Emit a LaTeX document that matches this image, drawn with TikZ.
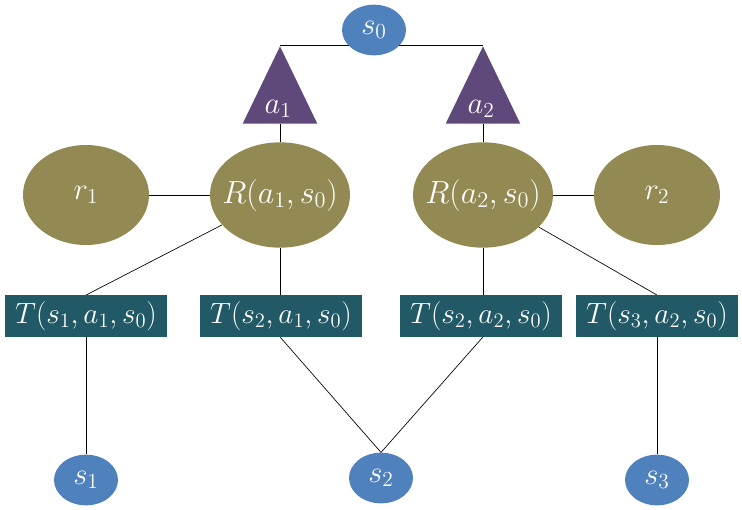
\documentclass[tikz,border=0pt]{standalone}
\usepackage{fix-cm}
\usepackage{tikz}
\usetikzlibrary{shapes.geometric,backgrounds}
\definecolor{stateblue}{HTML}{4F81BD}
\definecolor{rewardolive}{HTML}{938953}
\definecolor{actpurple}{HTML}{5F497A}
\definecolor{transteal}{HTML}{215967}

\begin{document}
\begin{tikzpicture}[
    x=0.75pt, y=-0.75pt,
    font=\fontsize{23}{27}\selectfont,
    state/.style={
        ellipse,
        fill=stateblue,
        text=white,
        minimum width=48pt,
        minimum height=38pt,
        inner sep=0pt
    },
    reward/.style={
        ellipse,
        fill=rewardolive,
        text=white,
        minimum width=94.5pt,
        minimum height=75pt,
        inner sep=0pt
    },
    rsum/.style={
        reward,
        font=\fontsize{24}{28}\selectfont,
        inner xsep=-10pt,
        minimum width=105pt,
        minimum height=79pt
    },
    trans/.style={
        rectangle,
        fill=transteal,
        text=white,
        font=\fontsize{22}{26}\selectfont,
        minimum width=121.5pt,
        minimum height=31pt,
        inner sep=0pt
    },
    act/.style={
        isosceles triangle,
        shape border rotate=90,
        isosceles triangle stretches,
        fill=actpurple,
        minimum width=56pt,
        minimum height=58pt,
        inner sep=0pt
    },
    actlab/.style={text=white, inner sep=0pt},
    link/.style={draw=black, line width=0.5pt}
]
\useasboundingbox (0,0) rectangle (742,510);

% top state and actions
\node[state] (s0) at (374,30) {$s_0$};
\node[act, anchor=south] (a1) at (280,124) {};
\node[act, anchor=south] (a2) at (483,124) {};
\node[actlab] (a1lab) at (278,109) {$a_1$};
\node[actlab] (a2lab) at (481,109) {$a_2$};

% rewards
\node[reward] (r1) at (86,195) {$r_1$};
\node[rsum] (R1) at (280,195) {$R(a_1,s_0)$};
\node[rsum] (R2) at (483,195) {$R(a_2,s_0)$};
\node[reward] (r2) at (657,195) {$r_2$};

% transitions
\node[trans] (T1) at (86,316) {$T(s_1,a_1,s_0)$};
\node[trans] (T2) at (281,316) {$T(s_2,a_1,s_0)$};
\node[trans] (T3) at (481,316) {$T(s_2,a_2,s_0)$};
\node[trans] (T4) at (657,316) {$T(s_3,a_2,s_0)$};

% next states
\node[state] (s1) at (86,480) {$s_1$};
\node[state] (s2) at (381,478) {$s_2$};
\node[state] (s3) at (657,480) {$s_3$};

\begin{pgfonlayer}{background}
\draw[link] (a1.north) -- (a2.north);
\draw[link] (a1.south) -- (R1.north);
\draw[link] (a2.south) -- (R2.north);
\draw[link] (r1) -- (R1);
\draw[link] (R2) -- (r2);
\draw[link] (R1) -- (T1.north);
\draw[link] (R1.south) -- (T2.north -| R1.south);
\draw[link] (R2.south) -- (T3.north -| R2.south);
\draw[link] (R2) -- (T4.north);
\draw[link] (T1.south) -- (s1.north);
\draw[link] (T2.south -| R1.south) -- (s2.north);
\draw[link] (T3.south -| R2.south) -- (s2.north);
\draw[link] (T4.south) -- (s3.north);
\end{pgfonlayer}

\end{tikzpicture}
\end{document}
